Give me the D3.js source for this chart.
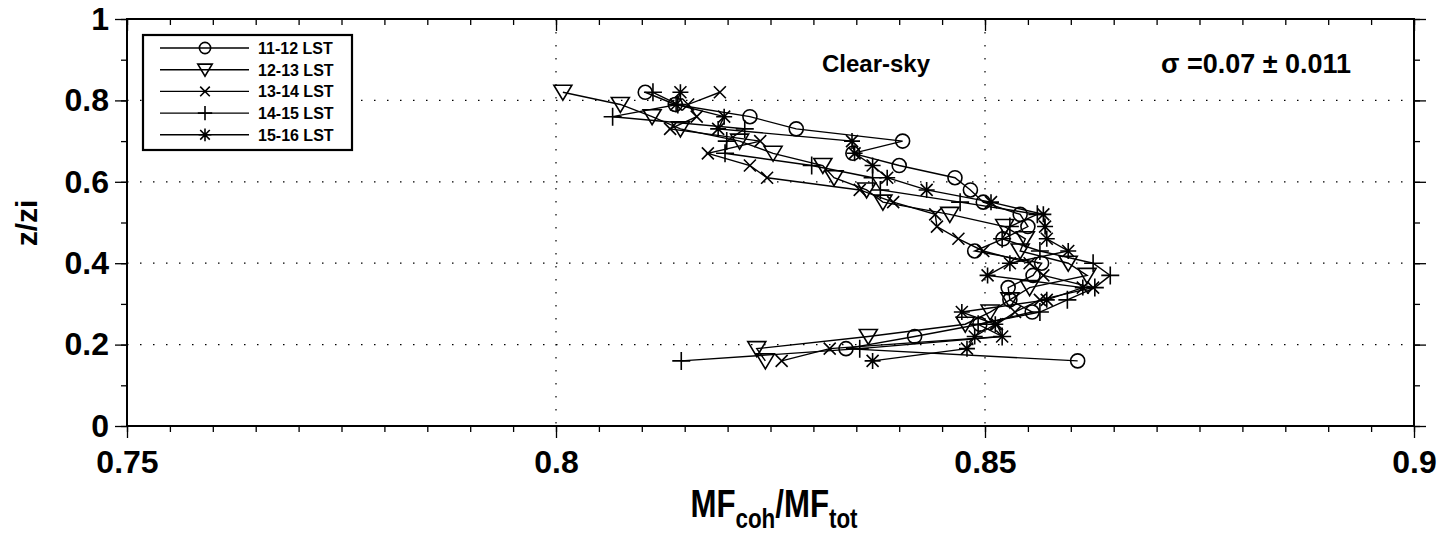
<!DOCTYPE html>
<html><head><meta charset="utf-8">
<script src="https://cdn.jsdelivr.net/npm/d3@7"></script>
<style>body{margin:0;background:#fff}svg{display:block}text{font-family:"Liberation Sans",Arial,sans-serif}</style>
</head><body><svg id="c" width="1445" height="537"></svg>
<script>
const zLevels=[0.82,0.79,0.76,0.73,0.70,0.67,0.64,0.61,0.58,0.55,0.52,0.49,0.46,0.43,0.40,0.37,0.34,0.31,0.28,0.25,0.22,0.19,0.16];
const s1112=[0.8104,0.8139,0.8226,0.8280,0.8404,0.8346,0.8400,0.8465,0.8483,0.8498,0.8541,0.8550,0.8521,0.8488,0.8566,0.8556,0.8527,0.8529,0.8555,0.8494,0.8418,0.8338,0.8608];
const s1213=[0.8008,0.8075,0.8112,0.8145,0.8214,0.8253,0.8311,0.8324,0.8362,0.8381,0.8459,0.8523,0.8547,0.8541,0.8597,0.8619,0.8552,0.8529,0.8506,0.8477,0.8364,0.8234,0.8244];
const s1314=[0.8191,0.8154,0.8164,0.8133,0.8238,0.8177,0.8226,0.8246,0.8354,0.8393,0.8442,0.8444,0.8469,0.8498,0.8552,0.8568,0.8626,0.8564,0.8535,0.8514,0.8520,0.8319,0.8263];
const s1415=[0.8113,0.8142,0.8066,0.8220,0.8199,0.8197,0.8298,0.8369,0.8378,0.8471,0.8561,0.8529,0.8520,0.8564,0.8626,0.8646,0.8628,0.8596,0.8564,0.8492,0.8520,0.8354,0.8146];
const s1516=[0.8145,0.8140,0.8196,0.8189,0.8345,0.8348,0.8369,0.8386,0.8432,0.8507,0.8568,0.8570,0.8572,0.8597,0.8529,0.8503,0.8614,0.8572,0.8473,0.8512,0.8488,0.8479,0.8369];
const seriesNames=["11-12 LST","12-13 LST","13-14 LST","14-15 LST","15-16 LST"];
const seriesMarkers=["circle","triangle","cross","plus","star"];
const seriesValues=[s1112,s1213,s1314,s1415,s1516];
const xTicks=[0.75,0.8,0.85,0.9];
const yTicks=[0,0.2,0.4,0.6,0.8,1];

const svg=d3.select("#c");
const L=127,R=1414,T=19,B=426;
const x=d3.scaleLinear().domain([0.75,0.9]).range([L,R]);
const y=d3.scaleLinear().domain([0,1]).range([B,T]);

// grid
const g=svg.append("g");
[0.8,0.85].forEach(v=>g.append("line").attr("x1",x(v)).attr("x2",x(v)).attr("y1",T).attr("y2",B)
  .attr("stroke","#000").attr("stroke-width",1.2).attr("stroke-dasharray","1.5,11.5"));
[0.2,0.4,0.6,0.8].forEach(v=>g.append("line").attr("y1",y(v)).attr("y2",y(v)).attr("x1",L).attr("x2",R)
  .attr("stroke","#000").attr("stroke-width",1.2).attr("stroke-dasharray","1.5,11.5"));

// axes
const xMinor=d3.range(0,31).map(i=>0.75+i*0.005);
const yMinor=d3.range(0,11).map(i=>i*0.1);
svg.append("g").attr("transform",`translate(0,${B})`).call(d3.axisBottom(x).tickValues(xMinor).tickSize(6).tickFormat(""));
const xb2=svg.append("g").attr("transform",`translate(0,${B})`)
  .call(d3.axisBottom(x).tickValues(xTicks).tickSize(12).tickFormat(d=>String(+d.toFixed(2))).tickPadding(12));
svg.append("g").attr("transform",`translate(0,${T})`).call(d3.axisBottom(x).tickValues(xMinor).tickSize(6).tickFormat(""));
svg.append("g").attr("transform",`translate(0,${T})`).call(d3.axisBottom(x).tickValues(xTicks).tickSize(12).tickFormat(""));
svg.append("g").attr("transform",`translate(${L},0)`).call(d3.axisLeft(y).tickValues(yMinor).tickSize(6).tickFormat(""));
const yl2=svg.append("g").attr("transform",`translate(${L},0)`)
  .call(d3.axisLeft(y).tickValues(yTicks).tickSize(12).tickPadding(6).tickFormat(d=>String(+d.toFixed(1))));
svg.append("g").attr("transform",`translate(${R},0)`).call(d3.axisRight(y).tickValues(yMinor).tickSize(6).tickFormat(""));
svg.append("g").attr("transform",`translate(${R},0)`).call(d3.axisRight(y).tickValues(yTicks).tickSize(12).tickFormat(""));
svg.selectAll(".domain").remove();
svg.selectAll(".tick line").attr("stroke","#000").attr("stroke-width",1.3);
[xb2,yl2].forEach(a=>a.selectAll("text").attr("font-size",32).attr("font-weight","bold").attr("fill","#000").attr("font-family","Liberation Sans, Arial"));
svg.append("rect").attr("x",L).attr("y",T).attr("width",R-L).attr("height",B-T)
  .attr("fill","none").attr("stroke","#000").attr("stroke-width",2);

// labels
svg.append("text").attr("transform",`translate(37,223) rotate(-90)`).attr("text-anchor","middle")
  .attr("font-size",30).attr("font-weight","bold").text("z/zi");
const xl=svg.append("text").attr("transform","translate(774,517) scale(0.8,1)").attr("text-anchor","middle")
  .attr("font-size",39).attr("font-weight","bold");
xl.append("tspan").text("MF");
xl.append("tspan").attr("font-size",28).attr("dy",11).text("coh");
xl.append("tspan").attr("dy",-11).text("/MF");
xl.append("tspan").attr("font-size",28).attr("dy",11).text("tot");
svg.append("text").attr("x",876).attr("y",72).attr("text-anchor","middle").attr("font-size",24).attr("font-weight","bold").text("Clear-sky");
svg.append("text").attr("x",1256).attr("y",73).attr("text-anchor","middle").attr("font-size",27).attr("font-weight","bold").text("σ =0.07 ± 0.011");

// markers
function marker(sel,type,k){
  k=k||1;
  let e;
  if(type==="circle") e=sel.append("circle").attr("r",7*k);
  else if(type==="triangle") e=sel.append("path").attr("d",`M${-9*k},${-7*k}L${9*k},${-7*k}L0,${8*k}Z`);
  else if(type==="cross") e=sel.append("path").attr("d",`M${-6*k},${-6*k}L${6*k},${6*k}M${-6*k},${6*k}L${6*k},${-6*k}`);
  else if(type==="plus") e=sel.append("path").attr("d",`M${-9*k},0L${9*k},0M0,${-9*k}L0,${9*k}`);
  else e=sel.append("path").attr("d",`M${-8*k},0L${8*k},0M0,${-8*k}L0,${8*k}M${-6*k},${-6*k}L${6*k},${6*k}M${-6*k},${6*k}L${6*k},${-6*k}`);
  e.attr("fill","none").attr("stroke","#000").attr("stroke-width",1.6);
}
const line=d3.line().x(d=>x(d[0])).y(d=>y(d[1]));
seriesValues.forEach((vals,i)=>{
  const pts=vals.map((v,j)=>[v,zLevels[j]]);
  svg.append("path").attr("d",line(pts)).attr("fill","none").attr("stroke","#000").attr("stroke-width",1.4);
  pts.forEach(p=>{
    const m=svg.append("g").attr("transform",`translate(${x(p[0])},${y(p[1])})`);
    marker(m,seriesMarkers[i]);
  });
});

// legend
const lg=svg.append("g");
lg.append("rect").attr("x",143).attr("y",35).attr("width",209).attr("height",115).attr("fill","#fff").attr("stroke","#000").attr("stroke-width",2.2);
seriesNames.forEach((n,i)=>{
  const yy=48+i*21.7;
  lg.append("line").attr("x1",160).attr("x2",249).attr("y1",yy).attr("y2",yy).attr("stroke","#000").attr("stroke-width",1.4);
  const m=lg.append("g").attr("transform",`translate(205,${yy})`);
  marker(m,seriesMarkers[i],0.8);
  lg.append("text").attr("x",258).attr("y",yy+6).attr("font-size",16).attr("font-weight","bold").text(n);
});
</script></body></html>
